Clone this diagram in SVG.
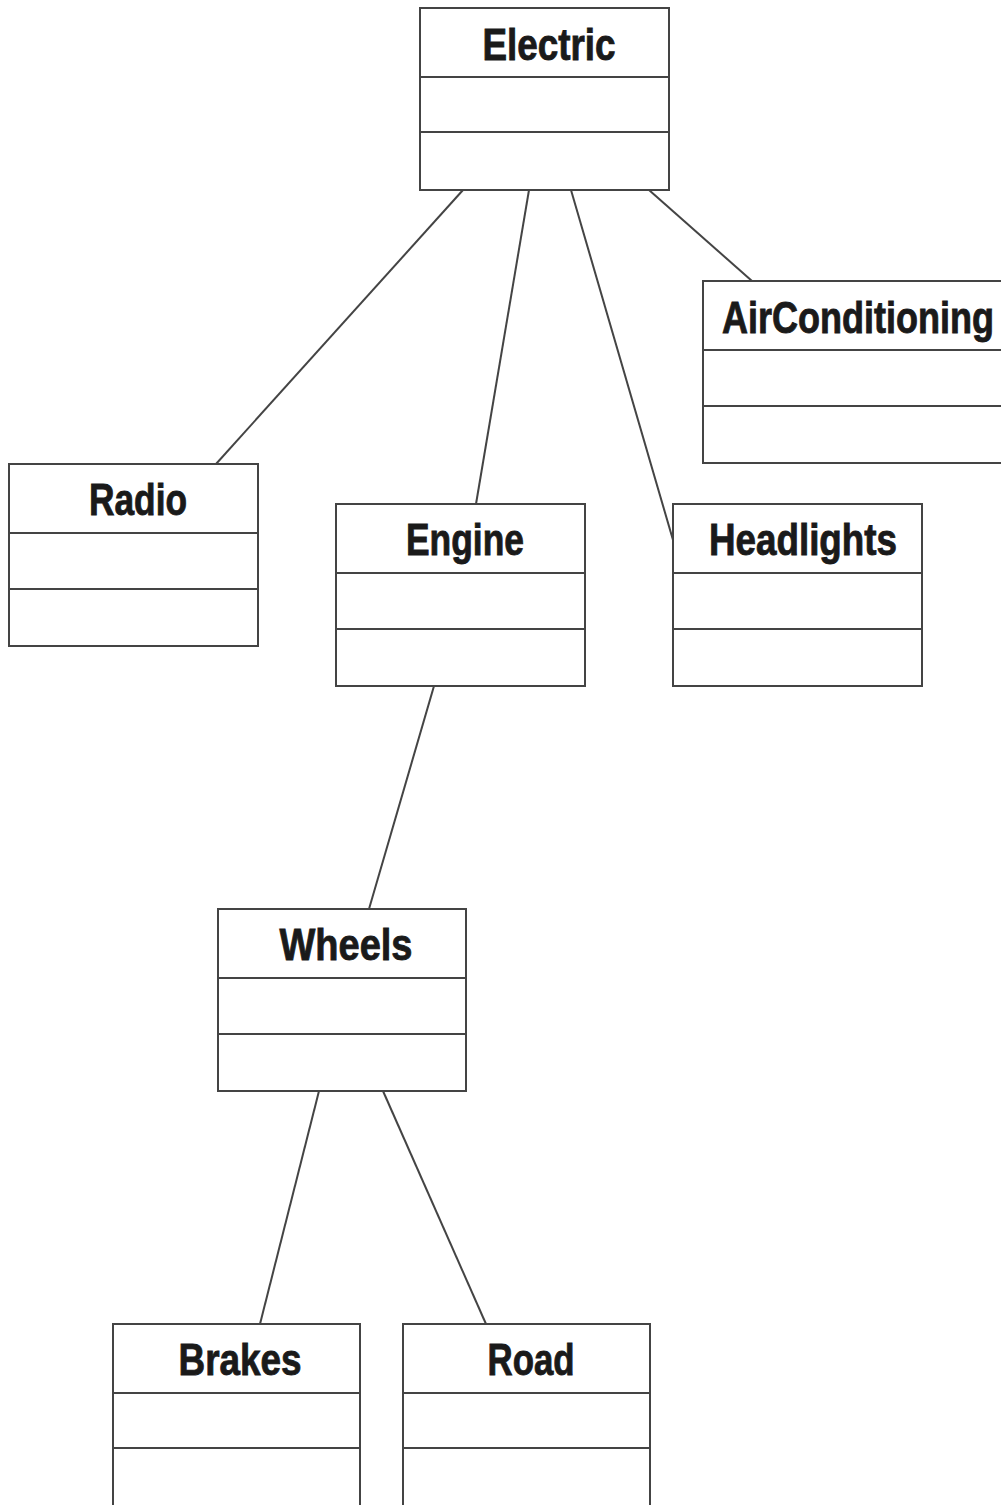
<svg xmlns="http://www.w3.org/2000/svg" width="1001" height="1505" viewBox="0 0 1001 1505">
<style>
.box{fill:#fff;stroke:#444;stroke-width:2}
.div{stroke:#444;stroke-width:2}
.lbl{font-family:"Liberation Sans",Arial,sans-serif;font-weight:bold;font-size:45px;fill:#1a1a1a;stroke:#1a1a1a;stroke-width:0.9;text-anchor:middle}
.conn line{stroke:#444;stroke-width:2}
</style>
<rect width="1001" height="1505" fill="#fff"/>
<g id="connectors" class="conn">
<line x1="463" y1="190" x2="216" y2="464"/>
<line x1="529" y1="190" x2="476" y2="504"/>
<line x1="571" y1="190" x2="673" y2="540"/>
<line x1="649" y1="190" x2="752" y2="281"/>
<line x1="434" y1="686" x2="369" y2="909"/>
<line x1="319" y1="1091" x2="260" y2="1324"/>
<line x1="383" y1="1091" x2="486" y2="1324"/>
</g>
<g id="electric">
<rect class="box" x="420" y="8" width="249" height="182"/>
<line class="div" x1="420" y1="77" x2="669" y2="77"/>
<line class="div" x1="420" y1="132" x2="669" y2="132"/>
<text class="lbl" x="549" y="60" textLength="133" lengthAdjust="spacingAndGlyphs">Electric</text>
</g>
<g id="airconditioning">
<rect class="box" x="703" y="281" width="310" height="182"/>
<line class="div" x1="703" y1="350" x2="1013" y2="350"/>
<line class="div" x1="703" y1="406" x2="1013" y2="406"/>
<text class="lbl" x="858" y="333" textLength="272" lengthAdjust="spacingAndGlyphs">AirConditioning</text>
</g>
<g id="radio">
<rect class="box" x="9" y="464" width="249" height="182"/>
<line class="div" x1="9" y1="533" x2="258" y2="533"/>
<line class="div" x1="9" y1="589" x2="258" y2="589"/>
<text class="lbl" x="138" y="515" textLength="98" lengthAdjust="spacingAndGlyphs">Radio</text>
</g>
<g id="engine">
<rect class="box" x="336" y="504" width="249" height="182"/>
<line class="div" x1="336" y1="573" x2="585" y2="573"/>
<line class="div" x1="336" y1="629" x2="585" y2="629"/>
<text class="lbl" x="465" y="555" textLength="118" lengthAdjust="spacingAndGlyphs">Engine</text>
</g>
<g id="headlights">
<rect class="box" x="673" y="504" width="249" height="182"/>
<line class="div" x1="673" y1="573" x2="922" y2="573"/>
<line class="div" x1="673" y1="629" x2="922" y2="629"/>
<text class="lbl" x="803" y="555" textLength="188" lengthAdjust="spacingAndGlyphs">Headlights</text>
</g>
<g id="wheels">
<rect class="box" x="218" y="909" width="248" height="182"/>
<line class="div" x1="218" y1="978" x2="466" y2="978"/>
<line class="div" x1="218" y1="1034" x2="466" y2="1034"/>
<text class="lbl" x="346" y="960" textLength="133" lengthAdjust="spacingAndGlyphs">Wheels</text>
</g>
<g id="brakes">
<rect class="box" x="113" y="1324" width="247" height="190"/>
<line class="div" x1="113" y1="1393" x2="360" y2="1393"/>
<line class="div" x1="113" y1="1448" x2="360" y2="1448"/>
<text class="lbl" x="240" y="1375" textLength="123" lengthAdjust="spacingAndGlyphs">Brakes</text>
</g>
<g id="road">
<rect class="box" x="403" y="1324" width="247" height="190"/>
<line class="div" x1="403" y1="1393" x2="650" y2="1393"/>
<line class="div" x1="403" y1="1448" x2="650" y2="1448"/>
<text class="lbl" x="531" y="1375" textLength="87" lengthAdjust="spacingAndGlyphs">Road</text>
</g>
</svg>
